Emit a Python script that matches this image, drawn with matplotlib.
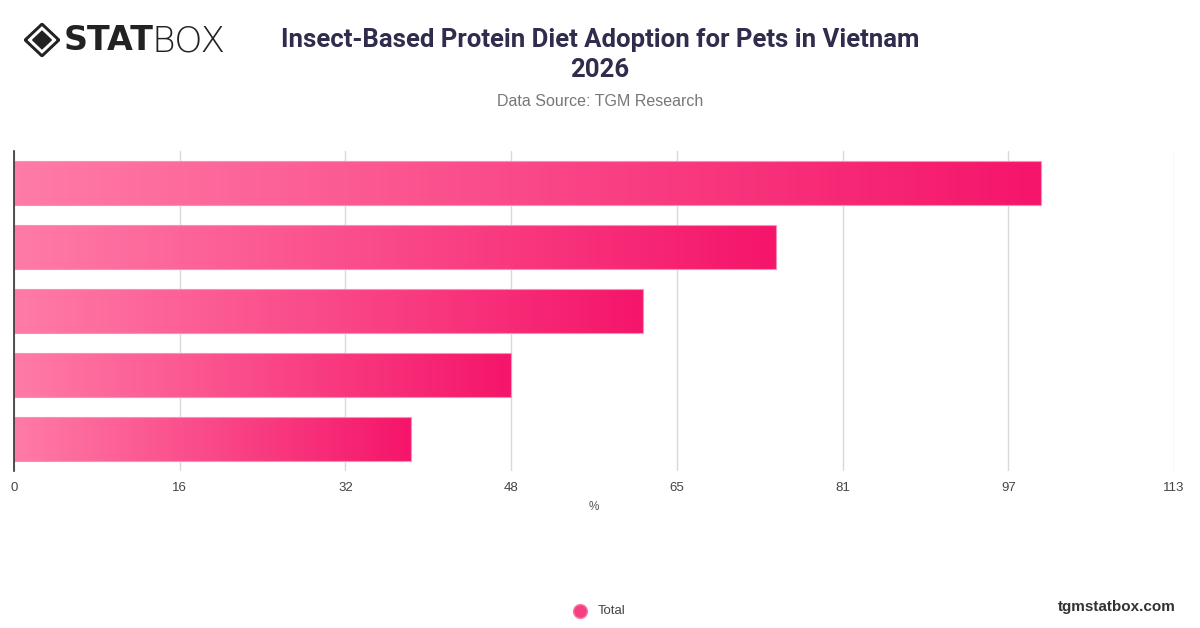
import numpy as np
import matplotlib.pyplot as plt
from matplotlib.colors import LinearSegmentedColormap
from matplotlib.patches import Polygon, Rectangle

# data (no category labels shown)
categories = ["Cat 1", "Cat 2", "Cat 3", "Cat 4", "Cat 5"]
values = [100, 74.2, 61.3, 48.4, 38.7]
series_name = "Total"
x_max = 113

title = "Insect-Based Protein Diet Adoption for Pets in Vietnam\n2026"
subtitle = "Data Source: TGM Research"
x_label = "%"

W, H = 1200, 628
fig = plt.figure(figsize=(W / 100, H / 100), dpi=100)
fig.patch.set_facecolor("white")

grad = LinearSegmentedColormap.from_list("pinkgrad", ["#ff7ba7", "#f5156a"])
gimg = np.linspace(0, 1, 256).reshape(1, -1)

# main axes, pixel placement from the reference
left, right, top, bottom = 14, 1174, 151, 471
ax = fig.add_axes([left / W, 1 - bottom / H, (right - left) / W, (bottom - top) / H])

bar_h = 44 / 64
ypos = np.arange(len(categories))
for y, v in zip(ypos, values):
    ax.imshow(gimg, cmap=grad, aspect="auto", interpolation="bicubic",
              extent=[0, v, y + bar_h / 2, y - bar_h / 2], zorder=3)
    ax.add_patch(Rectangle((0, y - bar_h / 2), v, bar_h, fill=False,
                           edgecolor="#ff8db6", lw=0.8, zorder=4))

ax.set_xlim(0, x_max)
ax.set_ylim(len(categories) - 0.5, -0.5)
ticks = np.linspace(0, x_max, 8)
ax.set_xticks(ticks)
ax.set_xticklabels([str(int(round(t))) for t in ticks], fontsize=9.5,
                   color="#444444", family="Liberation Sans")
ax.tick_params(axis="x", length=0, pad=8)
ax.set_yticks([])
ax.grid(axis="x", color="#d9d9d9", lw=1, zorder=0)
for s in ["top", "right", "bottom"]:
    ax.spines[s].set_visible(False)
ax.spines["left"].set_color("#333333")
ax.spines["left"].set_linewidth(1.2)
ax.spines["left"].set_zorder(5)
ax.set_xlabel(x_label, fontsize=8.5, color="#555555", labelpad=5, family="Liberation Sans")

# title and subtitle
fig.text(600 / W, 1 - 55 / H, title, ha="center", va="center", fontsize=18.5,
         fontweight="bold", color="#2f2c4c", family="Roboto", linespacing=1.3)
fig.text(600 / W, 1 - 101 / H, subtitle, ha="center", va="center", fontsize=11.5,
         color="#777777", family="Liberation Sans")

# logo
lax = fig.add_axes([24 / W, 1 - 57 / H, 36 / W, 34 / H])
lax.set_xlim(-1, 1)
lax.set_ylim(-1, 1)
lax.axis("off")
lax.add_patch(Polygon([(0, 1), (1, 0), (0, -1), (-1, 0)], closed=True, color="#222222"))
lax.add_patch(Polygon([(0, 0.76), (0.76, 0), (0, -0.76), (-0.76, 0)], closed=True, color="white"))
lax.add_patch(Polygon([(0, 0.52), (0.52, 0), (0, -0.52), (-0.52, 0)], closed=True, color="#222222"))
fig.text(64 / W, 1 - 41 / H, "STAT", ha="left", va="center", fontsize=24,
         fontweight="heavy", color="#222222", family="DejaVu Sans")
fig.text(152 / W, 1 - 41 / H, "BOX", ha="left", va="center", fontsize=26,
         fontweight="light", color="#222222", family="DejaVu Sans")

# legend
fig.add_artist(plt.Line2D([580 / W], [1 - 611 / H], marker="o", markersize=10,
                          markerfacecolor="#f63f80", markeredgecolor="#ff7ba7", lw=0))
fig.text(598 / W, 1 - 611 / H, series_name, ha="left", va="center", fontsize=9.5,
         color="#444444", family="Liberation Sans")

# footer
fig.text(1176 / W, 1 - 607 / H, "tgmstatbox.com", ha="right", va="center",
         fontsize=11, fontweight="bold", color="#333333", family="Liberation Sans")

fig.savefig("out.png", dpi=100, facecolor="white")
